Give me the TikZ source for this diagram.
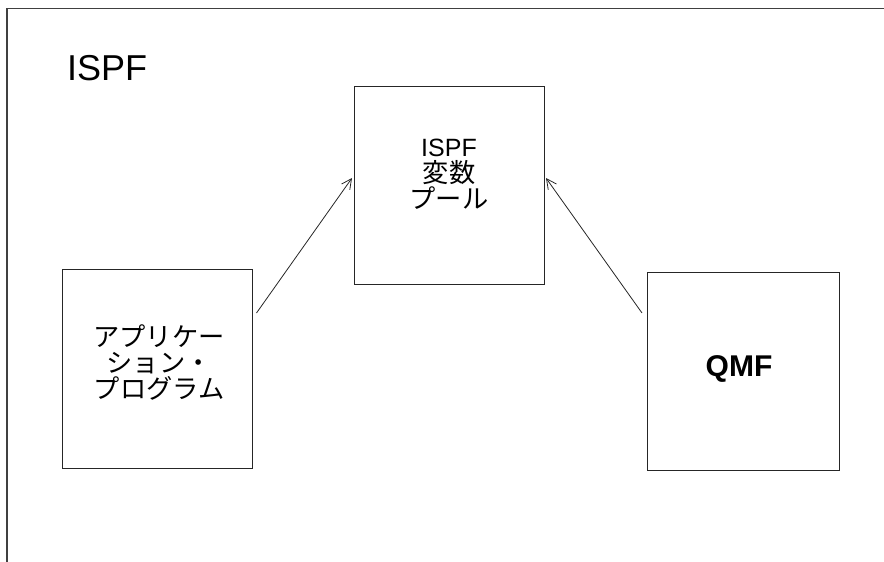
\documentclass[tikz,border=0pt]{standalone}
\usepackage{fontspec}
\setmainfont{Liberation Sans}
\newfontfamily\jp[Scale=1.05]{Noto Sans CJK JP}
\usetikzlibrary{arrows.meta}
\begin{document}
\begin{tikzpicture}[x=1pt,y=-1pt,
  boxstyle/.style={draw=black!85, line width=1pt, rectangle, inner sep=0pt},
  conn/.style={draw=black!85, line width=0.8pt, -{Straight Barb[length=10pt,width=10pt,line width=0.8pt]}},
  frame/.style={draw=black!75, line width=1.3pt},
  txt/.style={align=center, inner sep=0pt, font=\fontsize{25}{26}\selectfont}]
\useasboundingbox (0,0) rectangle (884,562);
% outer frame (top and left edges)
\coordinate (fa) at (884,8.5);
\coordinate (fc) at (7,8.5);
\coordinate (fb) at (7,562);
\draw[frame] (fa) -- (fc) -- (fb);
\node[anchor=base west, inner sep=0pt, font=\fontsize{36}{40}\selectfont] (title) at (67,80) {ISPF};
% boxes
\node[boxstyle, minimum width=190pt, minimum height=198pt] (pool) at (449,185) {};
\node[boxstyle, minimum width=190pt, minimum height=199pt] (app) at (157,368.5) {};
\node[boxstyle, minimum width=192pt, minimum height=198pt] (qmf) at (743,371) {};
% texts
\node[txt] (pooltxt) at (449,174) {ISPF\\{\jp 変数}\\{\jp プール}};
\node[txt] (apptxt) at (159,362) {{\jp アプリケー}\\{\jp ション・}\\{\jp プログラム}};
\node[inner sep=0pt, font=\fontsize{30}{32}\selectfont\bfseries] (qmftxt) at (739,369) {QMF};
% connectors
\coordinate (s1) at (256.5,313);
\coordinate (e1) at (352,178);
\coordinate (s2) at (642,313);
\coordinate (e2) at (546,178);
\draw[conn] (s1) -- (e1);
\draw[conn] (s2) -- (e2);
\end{tikzpicture}
\end{document}
